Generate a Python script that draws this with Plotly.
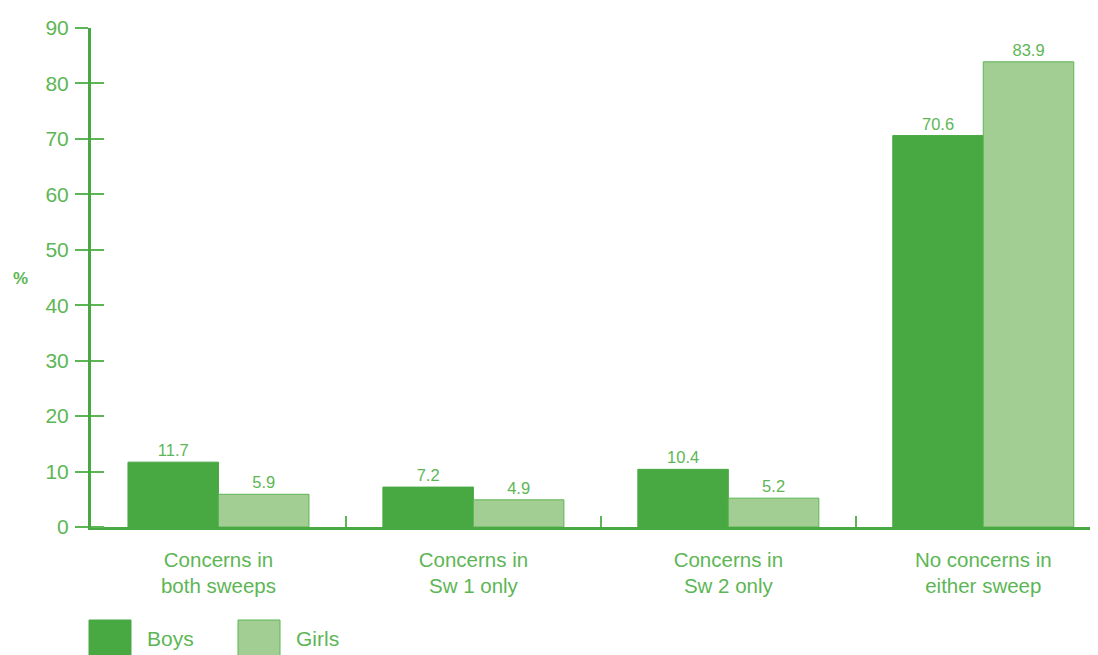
import plotly.graph_objects as go

categories = ["Concerns in<br>both sweeps", "Concerns in<br>Sw 1 only",
              "Concerns in<br>Sw 2 only", "No concerns in<br>either sweep"]
boys = [11.7, 7.2, 10.4, 70.6]
girls = [5.9, 4.9, 5.2, 83.9]
y_ticks = [0, 10, 20, 30, 40, 50, 60, 70, 80, 90]

dark = "#48A942"
light = "#A2CD93"
edge = "#5DB655"
text_col = "#5DB655"
font = "Liberation Sans"

# page is offset 8px by the default body margin, so the figure is 8px smaller
W, H = 1090, 647
L, T, B = 83, 20, 128
plot_w = W - L
plot_h = H - T - B

fig = go.Figure()
fig.add_bar(x=categories, y=boys, name="Boys", marker_color=dark,
            marker_line=dict(color=dark, width=1),
            text=[f"{v:.1f}" for v in boys], textposition="outside",
            textfont=dict(color=text_col, size=16.5, family=font), cliponaxis=False)
fig.add_bar(x=categories, y=girls, name="Girls", marker_color=light,
            marker_line=dict(color=edge, width=1),
            text=[f"{v:.1f}" for v in girls], textposition="outside",
            textfont=dict(color=text_col, size=16.5, family=font), cliponaxis=False)

fig.update_layout(
    width=W, height=H,
    margin=dict(l=L, r=0, t=T, b=B),
    plot_bgcolor="white", paper_bgcolor="white",
    barmode="group", bargap=0.29, bargroupgap=0,
    showlegend=False,
    font=dict(family=font, color=text_col),
    xaxis=dict(range=[-0.5, 3.45], showline=True, linecolor=dark, linewidth=3,
               ticks="inside", tickson="boundaries", ticklen=11, tickwidth=1.5,
               tickcolor=edge, tickfont=dict(size=20.5, color=text_col, family=font),
               ticklabelstandoff=12,
               showgrid=False, zeroline=False),
    yaxis=dict(range=[0, 90], tickvals=y_ticks, showline=True, linecolor=dark,
               linewidth=3, ticks="outside", ticklen=13, tickwidth=1.5, tickcolor=edge,
               tickfont=dict(size=21, color=text_col, family=font),
               ticklabelstandoff=2,
               minor=dict(tickvals=[v + 0.01 for v in y_ticks], ticks="inside",
                          ticklen=13, tickwidth=1.5, tickcolor=edge, showgrid=False),
               showgrid=False, zeroline=False),
)

fig.add_annotation(text="<b>%</b>", xref="paper", yref="paper",
                   x=(20 - 91) / plot_w, y=(527 - 278) / plot_h,
                   xanchor="center", yanchor="middle", showarrow=False,
                   font=dict(size=17, color=text_col, family=font))

# hand-drawn legend with large swatches, as in the reference
legend_items = [("Boys", dark, dark, 89), ("Girls", light, edge, 238)]
for label, fill, line, px0 in legend_items:
    fig.add_shape(type="rect", xref="paper", yref="paper",
                  x0=(px0 - 91) / plot_w, x1=(px0 + 42 - 91) / plot_w,
                  y0=-(660 - 527) / plot_h, y1=-(620 - 527) / plot_h,
                  fillcolor=fill, line=dict(color=line, width=1), layer="above")
    fig.add_annotation(text=label, xref="paper", yref="paper",
                       x=(px0 + 56 - 91) / plot_w, y=-(638 - 527) / plot_h,
                       xanchor="left", yanchor="middle", showarrow=False,
                       font=dict(size=21, color=text_col, family=font))

fig.write_html("out.html")
